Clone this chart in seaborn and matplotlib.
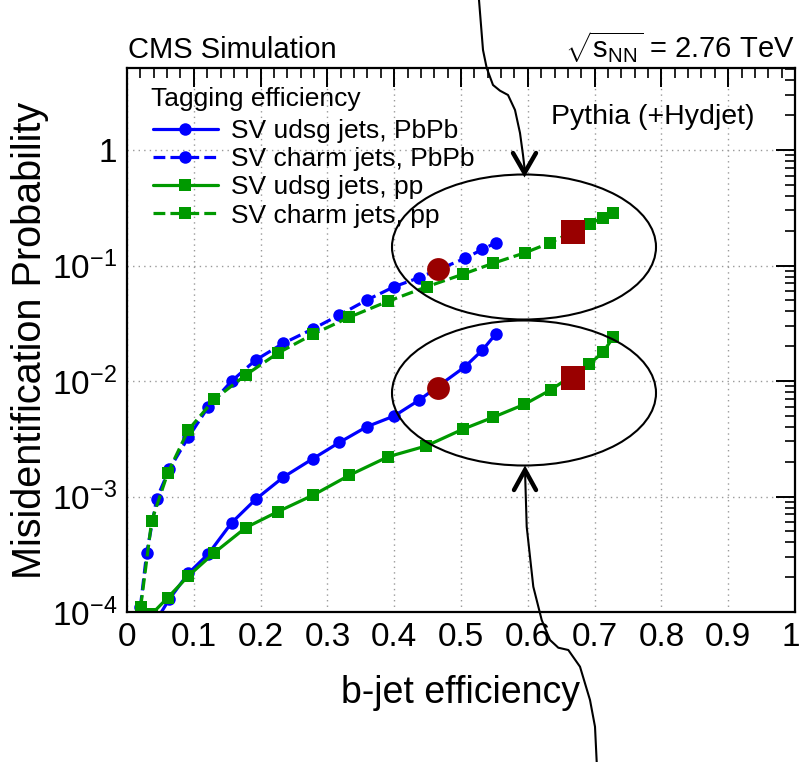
import numpy as np
import pandas as pd
import matplotlib
matplotlib.use("Agg")
import matplotlib.pyplot as plt
import matplotlib.transforms as mtransforms
import seaborn as sns
from matplotlib.patches import Ellipse
from matplotlib.lines import Line2D
from matplotlib.ticker import FixedLocator, LogLocator, NullFormatter, FixedFormatter

# ---------------- data ----------------
eff_charm_pbpb = [0.020, 0.0295, 0.0445, 0.0633, 0.0918, 0.1217, 0.1567, 0.1927, 0.234, 0.278,
                  0.318, 0.359, 0.400, 0.437, 0.506, 0.532, 0.552]
mis_charm_pbpb = [1.1e-4, 3.26e-4, 9.6e-4, 1.72e-3, 3.25e-3, 5.98e-3, 1.0e-2, 1.52e-2, 2.12e-2, 2.82e-2,
                  3.73e-2, 5.02e-2, 6.55e-2, 7.84e-2, 1.153e-1, 1.38e-1, 1.57e-1]

eff_udsg_pbpb = [0.035, 0.0633, 0.0918, 0.1217, 0.1567, 0.1927, 0.234, 0.278, 0.318, 0.359,
                 0.400, 0.4376, 0.506, 0.532, 0.552]
mis_udsg_pbpb = [7.0e-5, 1.29e-4, 2.16e-4, 3.18e-4, 5.93e-4, 9.46e-4, 1.47e-3, 2.12e-3, 2.94e-3, 4.02e-3,
                 4.98e-3, 6.85e-3, 1.33e-2, 1.85e-2, 2.55e-2]

eff_charm_pp = [0.0205, 0.037, 0.0609, 0.0918, 0.1307, 0.1777, 0.2256, 0.279, 0.333, 0.391,
                0.449, 0.5025, 0.548, 0.596, 0.633, 0.693, 0.712, 0.728]
mis_charm_pp = [1.11e-4, 6.17e-4, 1.59e-3, 3.77e-3, 6.93e-3, 1.127e-2, 1.74e-2, 2.55e-2, 3.57e-2, 4.91e-2,
                6.55e-2, 8.39e-2, 1.045e-1, 1.29e-1, 1.57e-1, 2.30e-1, 2.59e-1, 2.87e-1]

eff_udsg_pp = [0.037, 0.0609, 0.0918, 0.1307, 0.1777, 0.2256, 0.279, 0.333, 0.391, 0.448,
               0.5025, 0.548, 0.595, 0.634, 0.692, 0.713, 0.728]
mis_udsg_pp = [9.6e-5, 1.33e-4, 2.05e-4, 3.26e-4, 5.37e-4, 7.38e-4, 1.03e-3, 1.53e-3, 2.21e-3, 2.74e-3,
               3.82e-3, 4.85e-3, 6.28e-3, 8.36e-3, 1.395e-2, 1.79e-2, 2.39e-2]

wp_pbpb_eff = [0.465, 0.465]
wp_pbpb_mis = [0.0927, 0.00865]
wp_pp_eff = [0.667, 0.667]
wp_pp_mis = [0.195, 0.0106]

labels = ["SV udsg jets, PbPb", "SV charm jets, PbPb", "SV udsg jets, pp", "SV charm jets, pp"]
xtick_vals = [0, 0.1, 0.2, 0.3, 0.4, 0.5, 0.6, 0.7, 0.8, 0.9, 1.0]
xtick_labels = ["0", "0.1", "0.2", "0.3", "0.4", "0.5", "0.6", "0.7", "0.8", "0.9", "1"]
ytick_vals = [1e-4, 1e-3, 1e-2, 1e-1, 1]
ytick_labels = [r"$10^{-4}$", r"$10^{-3}$", r"$10^{-2}$", r"$10^{-1}$", "1"]

# ---------------- style ----------------
sns.set_style("white")
plt.rcParams["font.family"] = ["Liberation Sans", "DejaVu Sans"]
plt.rcParams["mathtext.fontset"] = "custom"
plt.rcParams["mathtext.rm"] = "Liberation Sans"
plt.rcParams["mathtext.it"] = "Liberation Sans"
plt.rcParams["mathtext.bf"] = "Liberation Sans"
for k in ("text.color", "axes.labelcolor", "xtick.color", "ytick.color", "axes.edgecolor"):
    plt.rcParams[k] = "black"

W, H = 800, 762
fig = plt.figure(figsize=(W / 100, H / 100), dpi=100)
ax = fig.add_axes([127 / W, 1 - 612 / H, (795 - 127) / W, (612 - 68) / H])

blue = "#0000ff"
green = "#009900"
darkred = "#990000"
lw = 2.3

series = [
    (eff_udsg_pbpb, mis_udsg_pbpb, blue, "o", "-", labels[0]),
    (eff_charm_pbpb, mis_charm_pbpb, blue, "o", "--", labels[1]),
    (eff_udsg_pp, mis_udsg_pp, green, "s", "-", labels[2]),
    (eff_charm_pp, mis_charm_pp, green, "s", "--", labels[3]),
]
handles = []
for xs, ys, col, mk, ls, lab in series:
    df = pd.DataFrame({"eff": xs, "mis": ys})
    ms = 9 if mk == "o" else 8.5
    sns.lineplot(data=df, x="eff", y="mis", ax=ax, color=col, marker=mk, linestyle=ls,
                 linewidth=lw, markersize=ms, markeredgewidth=0,
                 sort=False, estimator=None, legend=False)
    handles.append(Line2D([], [], color=col, marker=mk, linestyle=ls, linewidth=lw,
                          markersize=ms, markeredgewidth=0, label=lab))

sns.scatterplot(x=wp_pbpb_eff, y=wp_pbpb_mis, ax=ax, color=darkred, marker="o", s=270,
                linewidth=0, zorder=5, legend=False)
sns.scatterplot(x=wp_pp_eff, y=wp_pp_mis, ax=ax, color=darkred, marker="s", s=280,
                linewidth=0, zorder=5, legend=False)

ax.set_yscale("log")
ax.set_xlim(0, 1)
ax.set_ylim(1e-4, 10 ** 0.71)

ax.xaxis.set_major_locator(FixedLocator(xtick_vals))
ax.xaxis.set_major_formatter(FixedFormatter(xtick_labels))
ax.xaxis.set_minor_locator(FixedLocator(np.arange(0, 1.0001, 0.02)))
ax.yaxis.set_major_locator(FixedLocator(ytick_vals))
ax.yaxis.set_major_formatter(FixedFormatter(ytick_labels))
ax.yaxis.set_minor_locator(LogLocator(base=10, subs=np.arange(2, 10), numticks=20))
ax.yaxis.set_minor_formatter(NullFormatter())

ax.tick_params(which="both", direction="in", top=True, right=True, color="black")
ax.tick_params(which="major", length=14, width=1.4, labelsize=24, pad=7)
ax.tick_params(which="minor", length=7, width=1.2)
for sp in ax.spines.values():
    sp.set_linewidth(1.6)
    sp.set_color("black")

ax.grid(True, which="major", linestyle=(0, (1, 3)), color="#999999", linewidth=1.0)
ax.set_axisbelow(True)

ax.set_xlabel("b-jet efficiency", fontsize=27, labelpad=14)
ax.set_ylabel("Misidentification Probability", fontsize=28.5, labelpad=2)
ax.xaxis.set_label_coords((461 - 127) / 668, -0.115)

fig.canvas.draw()
last = ax.get_xticklabels()[-1]
last.set_horizontalalignment("right")
last.set_transform(last.get_transform() + mtransforms.ScaledTranslation(5 / 100, 0, fig.dpi_scale_trans))

ax.text((151 - 127) / 668, (612 - 106) / 544, "Tagging efficiency", fontsize=19,
        ha="left", va="baseline", transform=ax.transAxes)
leg = ax.legend(handles=handles, loc="upper left", bbox_to_anchor=((153 - 127) / 668, (612 - 119) / 544),
                frameon=False, fontsize=19, handlelength=2.45, handletextpad=0.5,
                labelspacing=0.16, borderpad=0, borderaxespad=0)

fig.text(128 / W, 1 - 58 / H, "CMS Simulation", fontsize=21, ha="left", va="baseline")
fig.text(795 / W, 1 - 58 / H, r"$\sqrt{s_{\mathrm{NN}}}$ = 2.76 TeV", fontsize=21,
         ha="right", va="baseline")
ax.text((755 - 127) / 668, (612 - 124) / 544, "Pythia (+Hydjet)", fontsize=20.5, ha="right",
        va="baseline", transform=ax.transAxes)

# ---------------- annotations (figure pixel coords) ----------------
def fx(px):
    return px / W

def fy(py):
    return 1 - py / H

for cy in (247, 393):
    e = Ellipse((fx(524), fy(cy)), 264 / W, 145 / H, transform=fig.transFigure,
                fill=False, edgecolor="black", linewidth=1.5, zorder=10)
    fig.add_artist(e)

top_curve = [(479, 0), (481, 25), (483, 50), (486.7, 68), (493, 85), (500, 90.7), (508, 95),
             (515, 110), (520, 133), (523, 155), (525, 172)]
bot_curve = [(525, 470), (526.7, 526.7), (533.3, 586.7), (541.7, 620), (550, 640), (558.3, 647.7),
             (568.3, 650), (580, 666.7), (590, 700), (595, 726.7), (596.7, 762)]
for curve in (top_curve, bot_curve):
    xs = [fx(p[0]) for p in curve]
    ys = [fy(p[1]) for p in curve]
    fig.add_artist(Line2D(xs, ys, color="black", linewidth=1.5, transform=fig.transFigure))

# arrow heads
fig.add_artist(Line2D([fx(513), fx(524.5), fx(536)], [fy(153), fy(173), fy(153)],
                      color="black", linewidth=3.2, transform=fig.transFigure,
                      solid_joinstyle="miter"))
fig.add_artist(Line2D([fx(514), fx(525), fx(536)], [fy(490), fy(470), fy(490)],
                      color="black", linewidth=3.2, transform=fig.transFigure,
                      solid_joinstyle="miter"))

fig.savefig("out.png", dpi=100)
